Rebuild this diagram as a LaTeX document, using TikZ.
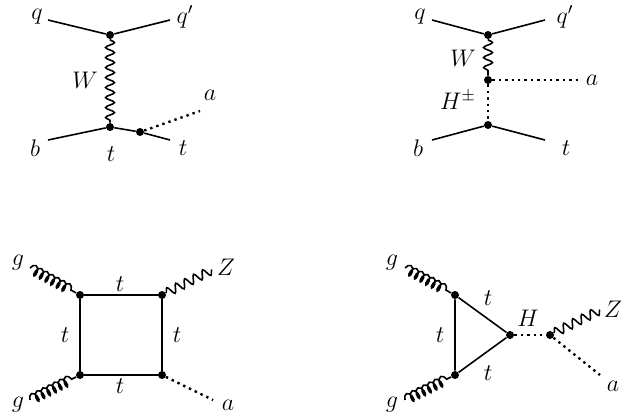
\documentclass[tikz,border=0pt]{standalone}
\usetikzlibrary{decorations.pathmorphing}
\begin{document}
\begin{tikzpicture}[x=0.5pt,y=-0.5pt,
  fer/.style={line width=0.8pt},
  bos/.style={line width=0.8pt,decorate,decoration={snake,amplitude=2.2pt,segment length=5pt}},
  glu/.style={line width=0.8pt,decorate,decoration={coil,amplitude=2.5pt,segment length=3.2pt}},
  sca/.style={line width=1.2pt,dotted},
  vtx/.style={circle,fill,inner sep=0pt,minimum size=4pt},
  lbl/.style={font=\large}]
\useasboundingbox (0,0) rectangle (635,418);
% diagram 1
\node[vtx] (v1) at (110,35) {};
\node[vtx] (v2) at (110,127) {};
\node[vtx] (v3) at (140,132) {};
\coordinate (q1) at (48,20); \coordinate (qp1) at (170,20);
\coordinate (b1) at (48,140); \coordinate (t1) at (170,140);
\coordinate (a1) at (200,111);
\draw[fer] (q1) -- (v1) -- (qp1);
\draw[bos] (v1) -- (v2);
\draw[fer] (b1) -- (v2) -- (v3) -- (t1);
\draw[sca] (v3) -- (a1);
\node[lbl] (lq1) at (37,17) {$q$};
\node[lbl] (lqp1) at (185,17) {$q'$};
\node[lbl] (lW1) at (85,80) {$W$};
\node[lbl] (lb1) at (35,148) {$b$};
\node[lbl] (lt1) at (111,154) {$t$};
\node[lbl] (ltt1) at (183,148) {$t$};
\node[lbl] (la1) at (210,95) {$a$};
% diagram 2
\node[vtx] (w1) at (488,35) {};
\node[vtx] (w2) at (488,80) {};
\node[vtx] (w3) at (488,125) {};
\coordinate (q2) at (432,20); \coordinate (qp2) at (545,20);
\coordinate (b2) at (432,140); \coordinate (t2) at (545,140);
\coordinate (a2) at (578,80);
\draw[fer] (q2) -- (w1) -- (qp2);
\draw[bos] (w1) -- (w2);
\draw[sca] (w2) -- (a2);
\draw[sca] (w2) -- (w3);
\draw[fer] (b2) -- (w3) -- (t2);
\node[lbl] (lq2) at (420,17) {$q$};
\node[lbl] (lqp2) at (565,17) {$q'$};
\node[lbl] (lW2) at (463,58) {$W$};
\node[lbl] (lH2) at (458,100) {$H^{\pm}$};
\node[lbl] (la2) at (592,80) {$a$};
\node[lbl] (lb2) at (418,148) {$b$};
\node[lbl] (lt2) at (566,148) {$t$};
% diagram 3
\node[vtx] (c1) at (80,295) {};
\node[vtx] (c2) at (162,295) {};
\node[vtx] (c3) at (162,375) {};
\node[vtx] (c4) at (80,375) {};
\coordinate (g31) at (30,268); \coordinate (g32) at (30,400);
\coordinate (z3) at (212,270); \coordinate (a3) at (213,400);
\draw[fer] (c1) -- (c2) -- (c3) -- (c4) -- (c1);
\draw[glu] (g31) -- (c1);
\draw[glu] (g32) -- (c4);
\draw[bos] (c2) -- (z3);
\draw[sca] (c3) -- (a3);
\node[lbl] (lg31) at (18,263) {$g$};
\node[lbl] (lg32) at (18,405) {$g$};
\node[lbl] (lZ3) at (226,267) {$Z$};
\node[lbl] (la3) at (228,405) {$a$};
\node[lbl] (lt31) at (120,284) {$t$};
\node[lbl] (lt32) at (65,335) {$t$};
\node[lbl] (lt33) at (177,335) {$t$};
\node[lbl] (lt34) at (120,386) {$t$};
% diagram 4
\node[vtx] (d1) at (455,295) {};
\node[vtx] (d2) at (455,375) {};
\node[vtx] (d3) at (510,335) {};
\node[vtx] (d4) at (550,335) {};
\coordinate (g41) at (405,268); \coordinate (g42) at (405,400);
\coordinate (z4) at (600,310); \coordinate (a4) at (600,375);
\draw[fer] (d1) -- (d3) -- (d2) -- (d1);
\draw[glu] (g41) -- (d1);
\draw[glu] (g42) -- (d2);
\draw[sca] (d3) -- (d4);
\draw[bos] (d4) -- (z4);
\draw[sca] (d4) -- (a4);
\node[lbl] (lg41) at (392,263) {$g$};
\node[lbl] (lg42) at (392,405) {$g$};
\node[lbl] (lt41) at (488,298) {$t$};
\node[lbl] (lt42) at (440,335) {$t$};
\node[lbl] (lt43) at (488,373) {$t$};
\node[lbl] (lH4) at (528,318) {$H$};
\node[lbl] (lZ4) at (613,309) {$Z$};
\node[lbl] (la4) at (613,386) {$a$};
\end{tikzpicture}
\end{document}
